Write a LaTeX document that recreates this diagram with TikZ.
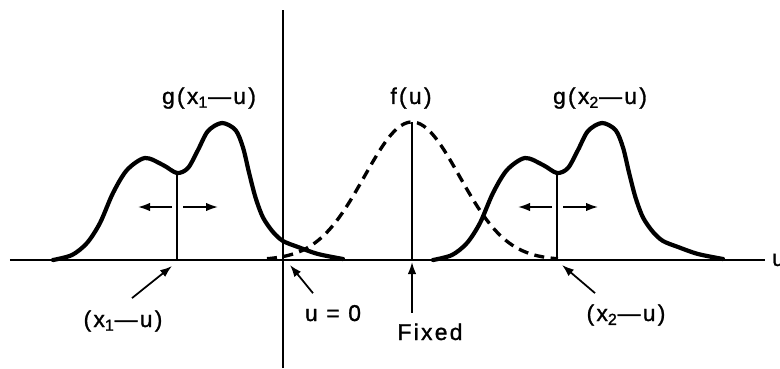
\documentclass[tikz,border=0pt]{standalone}
\usepackage{fontspec}
\setmainfont[LetterSpace=10, FakeBold=1.2]{Liberation Sans}
\usetikzlibrary{arrows.meta}

\tikzset{
	curva/.style={line width=2.4pt, line join=round, line cap=round},
	tracejada/.style={line width=1.9pt, dash pattern=on 2mm off 1.3mm},
	eixo/.style={line width=1.2pt},
	fina/.style={line width=1pt},
	seta/.style={line width=1pt, -{Latex[length=2.4mm,width=1.7mm]}},
	rotulo/.style={font=\fontsize{13}{15}\selectfont, anchor=base, inner sep=0pt}
}

\begin{document}
\begin{tikzpicture}
\useasboundingbox (-5.66,-2.16) rectangle (9.94,5.2);

% Eixos
	\draw[eixo] (0,-2.16) -- (0,5.0);
	\draw[eixo] (-5.46,0) -- (9.64,0) node[anchor=west, inner sep=1.2mm, font=\fontsize{13}{15}\selectfont] (eixou) {u};

% Curvas g (a mesma, deslocada)
\foreach \s [count=\i] in {0, 7.6} {
\begin{scope}[xshift=\s cm]
	\draw[curva] plot[smooth] coordinates {(-4.6,0) (-4.22,0.1) (-3.92,0.34) (-3.66,0.74)
		(-3.4,1.34) (-3.12,1.8) (-2.76,2.04) (-2.4,1.9) (-2.12,1.74) (-1.9,1.84)
		(-1.7,2.2) (-1.5,2.58) (-1.22,2.74) (-0.95,2.6) (-0.8,2.25) (-0.68,1.75)
		(-0.55,1.25) (-0.4,0.85) (-0.2,0.56) (0,0.38) (0.3,0.26) (0.7,0.12) (1.2,0.02)};
	\coordinate (vale\i) at (-2.12,1.74);
	\coordinate (base\i) at (-2.12,0);
	\draw[fina] (vale\i) -- (base\i);
	\draw[seta] (-2.22,1.06) -- (-2.9,1.06);
	\draw[seta] (-2.0,1.06) -- (-1.3,1.06);
\end{scope}
}

% Curva f (fixa, tracejada)
	\draw[tracejada] plot[domain=-0.32:5.5, samples=90, smooth]
		(\x, {2.76*exp(-((\x-2.58)*(\x-2.58))/(2*0.95*0.95))});
	\coordinate (pico) at (2.58,2.76);
	\coordinate (fixo) at (2.58,0);
	\draw[fina] (pico) -- (fixo);

% Rotulos de cima
	\node[rotulo] (g1) at (-1.48,3.12) {g(x\textsubscript{1}---u)};
	\node[rotulo] (f) at (2.56,3.12) {f(u)};
	\node[rotulo] (g2) at (6.34,3.12) {g(x\textsubscript{2}---u)};

% Rotulos de baixo
	\node[rotulo] (lx1) at (-3.2,-1.34) {(x\textsubscript{1}---u)};
	\node[rotulo] (lzero) at (1.0,-1.22) {u = 0};
	\node[rotulo] (lfixo) at (2.94,-1.6) {Fixed};
	\node[rotulo] (lx2) at (6.86,-1.22) {(x\textsubscript{2}---u)};

	\coordinate (px1) at (-2.22,-0.12);
	\coordinate (pzero) at (0.14,-0.1);
	\coordinate (pfixo) at (2.58,-0.04);
	\coordinate (px2) at (5.58,-0.1);

	\draw[seta] ([shift={(0.18,0.24)}]lx1.north) -- (px1);
	\draw[seta] ([shift={(-0.4,0.23)}]lzero.north) -- (pzero);
	\draw[seta] ([shift={(-0.36,0.21)}]lfixo.north) -- (pfixo);
	\draw[seta] ([shift={(-0.62,0.22)}]lx2.north) -- (px2);
\end{tikzpicture}
\end{document}
